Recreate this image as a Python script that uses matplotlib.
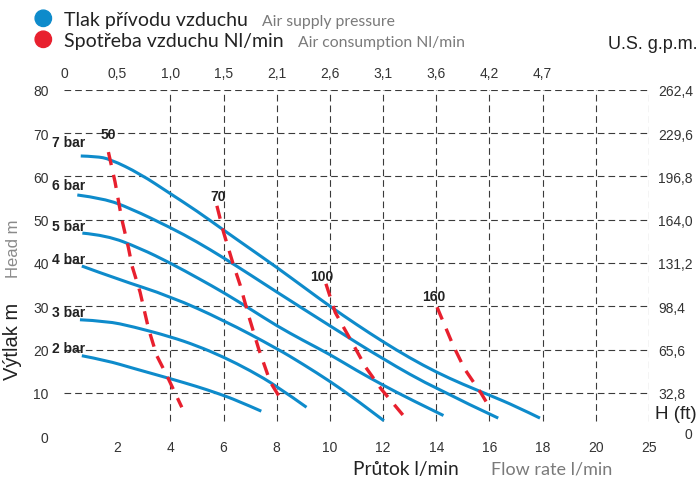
import matplotlib
matplotlib.use('Agg')
import matplotlib.pyplot as plt
from matplotlib.patches import Circle, PathPatch
from matplotlib.path import Path
from matplotlib.transforms import IdentityTransform

# ---------------- data ----------------
flow_ticks = [2, 4, 6, 8, 10, 12, 14, 16, 18, 20, 22]
flow_labels = ['2', '4', '6', '8', '10', '12', '14', '16', '18', '20', '25']
gpm_ticks = [0, 2, 4, 6, 8, 10, 12, 14, 16, 18]
gpm_labels = ['0', '0,5', '1,0', '1,5', '2,1', '2,6', '3,1', '3,6', '4,2', '4,7']
head_ticks = [0, 10, 20, 30, 40, 50, 60, 70, 80]
head_labels = ['0', '10', '20', '30', '40', '50', '60', '70', '80']
ft_ticks = [10, 20, 30, 40, 50, 60, 70, 80]
ft_labels = ['32,8', '65,6', '98,4', '131,2', '164,0', '196,8', '229,6', '262,4']

bar_names = ['7 bar', '6 bar', '5 bar', '4 bar', '3 bar', '2 bar']
p7_x = [0.63, 1.2, 1.73, 2.86, 4.0, 5.0, 6.0, 7.0, 8.0, 9.0, 10.0, 11.0, 12.0, 13.0, 14.0, 15.0, 16.0, 17.0, 17.9]
p7_y = [64.7, 64.6, 64.0, 60.6, 56.0, 52.0, 47.6, 43.3, 39.0, 34.5, 30.0, 25.8, 21.8, 18.1, 14.8, 12.0, 9.5, 6.9, 4.2]
p6_x = [0.5, 1.5, 2.5, 4.0, 5.0, 6.0, 7.0, 8.0, 10.0, 12.0, 14.0, 16.33]
p6_y = [55.7, 54.9, 52.6, 48.2, 44.9, 41.2, 37.3, 33.3, 25.5, 17.8, 10.9, 4.2]
p5_x = [0.69, 1.6, 2.86, 4.0, 5.1, 6.0, 7.0, 8.0, 9.0, 10.0, 11.0, 12.0, 13.0, 14.27]
p5_y = [46.9, 46.4, 43.4, 40.0, 36.3, 33.2, 29.4, 25.5, 22.1, 18.9, 15.2, 11.8, 8.6, 4.8]
p4_x = [0.67, 2.0, 4.0, 6.0, 8.0, 9.0, 10.0, 11.0, 12.03]
p4_y = [39.3, 36.3, 32.3, 26.8, 20.3, 16.6, 12.7, 8.4, 3.6]
p3_x = [0.6, 1.6, 2.6, 4.0, 5.0, 6.0, 7.0, 8.0, 9.12]
p3_y = [26.9, 26.6, 25.3, 23.0, 20.9, 18.3, 15.2, 11.6, 6.7]
p2_x = [0.67, 1.6, 2.6, 4.0, 5.0, 5.74, 6.5, 7.42]
p2_y = [18.6, 17.5, 15.7, 13.3, 11.5, 10.0, 8.3, 5.8]

air_names = ['50', '70', '100', '160']
c50_x = [1.67, 1.92, 2.17, 2.42, 2.56, 2.86, 3.18, 3.49, 3.87, 4.43]
c50_y = [65.6, 58.7, 50.2, 43.6, 39.3, 33.3, 24.8, 18.6, 14.0, 6.7]
c70_x = [5.75, 6.0, 6.35, 6.63, 6.94, 7.32, 7.76, 8.26]
c70_y = [53.2, 47.1, 40.0, 34.8, 27.9, 20.2, 12.5, 7.5]
c100_x = [9.85, 10.2, 10.83, 11.35, 11.93, 12.76]
c100_y = [35.2, 28.6, 21.7, 15.9, 10.9, 4.8]
c160_x = [14.03, 14.64, 15.07, 15.7, 16.0]
c160_y = [29.8, 20.9, 15.5, 9.8, 6.7]

# ---------------- layout / style ----------------
W, H = 700, 481
BLUE = '#0e8bcb'
RED = '#e8202e'
DARK = '#222222'
GRAY = '#7a7a7a'
TICKC = '#333333'
SANS = 'Liberation Sans'
HUM = 'Lato'

fig = plt.figure(figsize=(W / 100, H / 100), dpi=100)
y0_px, y80_px = 437.3, 90.7
ax = fig.add_axes([64 / W, (H - y0_px) / H, 585 / W, (y0_px - y80_px) / H])
ax.set_xlim(0, 22)
ax.set_ylim(0, 80)
for s in ax.spines.values():
    s.set_visible(False)

ax.set_xticks(flow_ticks)
ax.set_xticklabels(flow_labels)
ax.set_yticks(head_ticks)
ax.set_yticklabels(head_labels)
ax.tick_params(axis='both', length=0, labelsize=10, labelcolor=TICKC)
ax.tick_params(axis='x', pad=2.5)
ax.tick_params(axis='y', pad=11)
for lab in ax.get_xticklabels() + ax.get_yticklabels():
    lab.set_fontfamily(SANS)

axt = ax.secondary_xaxis('top')
axt.set_xticks(gpm_ticks)
axt.set_xticklabels(gpm_labels)
axt.tick_params(length=0, pad=7, labelsize=10, labelcolor=TICKC)
for s in axt.spines.values():
    s.set_visible(False)
for lab in axt.get_xticklabels():
    lab.set_fontfamily(SANS)

axr = ax.secondary_yaxis('right')
axr.set_yticks(ft_ticks)
axr.set_yticklabels(ft_labels)
axr.tick_params(length=0, pad=6.5, labelsize=10, labelcolor=TICKC)
for s in axr.spines.values():
    s.set_visible(False)
for lab in axr.get_yticklabels():
    lab.set_fontfamily(SANS)

# grid
grid_style = dict(colors='#3a3a3a', linewidths=0.8, linestyles=(0, (6, 3.6)), zorder=1)
ax.hlines([10, 20, 30, 40, 50, 60, 70, 80], 0, 22, **grid_style)
ax.vlines([4, 6, 8, 10, 12, 14, 16, 18, 20, 22], 3.6, 80, **grid_style)


def smooth_path(xs, ys):
    """Quadratic B-spline style path: read points used as Bezier control points."""
    pts = list(zip(xs, ys))
    verts = [pts[0]]
    codes = [Path.MOVETO]
    n = len(pts)
    for i in range(1, n - 1):
        ctrl = pts[i]
        if i < n - 2:
            end = ((pts[i][0] + pts[i + 1][0]) / 2, (pts[i][1] + pts[i + 1][1]) / 2)
        else:
            end = pts[-1]
        verts += [ctrl, end]
        codes += [Path.CURVE3, Path.CURVE3]
    return Path(verts, codes)


# pressure curves
curves = [(p7_x, p7_y), (p6_x, p6_y), (p5_x, p5_y), (p4_x, p4_y), (p3_x, p3_y), (p2_x, p2_y)]
for (xs, ys) in curves:
    patch = PathPatch(smooth_path(xs, ys), facecolor='none', edgecolor=BLUE, lw=2.2,
                      capstyle='butt', joinstyle='round', zorder=3, clip_on=False)
    ax.add_patch(patch)

bar_label_pos = [(-0.45, 67.9), (-0.45, 58.0), (-0.45, 48.6), (-0.45, 40.9), (-0.45, 28.6), (-0.45, 20.4)]
for name, (lx, ly) in zip(bar_names, bar_label_pos):
    ax.text(lx, ly, name, fontsize=10, fontweight='bold', family=SANS, color=DARK,
            ha='left', va='center', clip_on=False, zorder=5)

# air consumption curves
air = [(c50_x, c50_y), (c70_x, c70_y), (c100_x, c100_y), (c160_x, c160_y)]
for (xs, ys) in air:
    ax.plot(xs, ys, color=RED, lw=2.4, ls=(0, (4, 3)), dash_capstyle='butt', zorder=4)

air_label_pos = [(1.67, 69.8), (5.8, 55.4), (9.69, 37.1), (13.92, 32.4)]
for name, (lx, ly) in zip(air_names, air_label_pos):
    ax.text(lx, ly, name, fontsize=10, fontweight='bold', family=SANS, color=DARK,
            ha='center', va='center', zorder=5)

# ---------------- outside texts (pixel coordinates) ----------------
def ftext(x, y, s, **kw):
    return fig.text(x / W, 1 - y / H, s, **kw)

# legend
for cy, col in [(19.3, BLUE), (40.3, RED)]:
    c = Circle((43.3, H - cy), 8.2, transform=IdentityTransform(), color=col, zorder=5)
    fig.add_artist(c)
ftext(64, 26, 'Tlak přívodu vzduchu', fontsize=14, family=HUM, color=DARK, ha='left', va='baseline')
ftext(262, 26, 'Air supply pressure', fontsize=11.3, family=HUM, color=GRAY, ha='left', va='baseline')
ftext(64, 46.5, 'Spotřeba vzduchu Nl/min', fontsize=14, family=HUM, color=DARK, ha='left', va='baseline')
ftext(298, 46.5, 'Air consumption Nl/min', fontsize=11.3, family=HUM, color=GRAY, ha='left', va='baseline')

ftext(697, 45, 'U.S. g.p.m.', fontsize=13, family=SANS, color=DARK, ha='right', va='center')
ftext(697, 415, 'H (ft)', fontsize=13.5, family=SANS, color=DARK, ha='right', va='center')
ftext(688, 435, '0', fontsize=10, family=SANS, color=TICKC, ha='center', va='center')

ftext(13, 341, 'Výtlak m', fontsize=14.5, family=SANS, color=DARK, ha='center', va='center', rotation=90)
ftext(13, 249, 'Head m', fontsize=12, family=SANS, color='#8a8a8a', ha='center', va='center', rotation=90)

ftext(353, 470, 'Průtok l/min', fontsize=13.8, family=HUM, color=DARK, ha='left', va='center')
ftext(491, 470, 'Flow rate l/min', fontsize=13, family=HUM, color=GRAY, ha='left', va='center')

fig.savefig('out.png', dpi=100)
